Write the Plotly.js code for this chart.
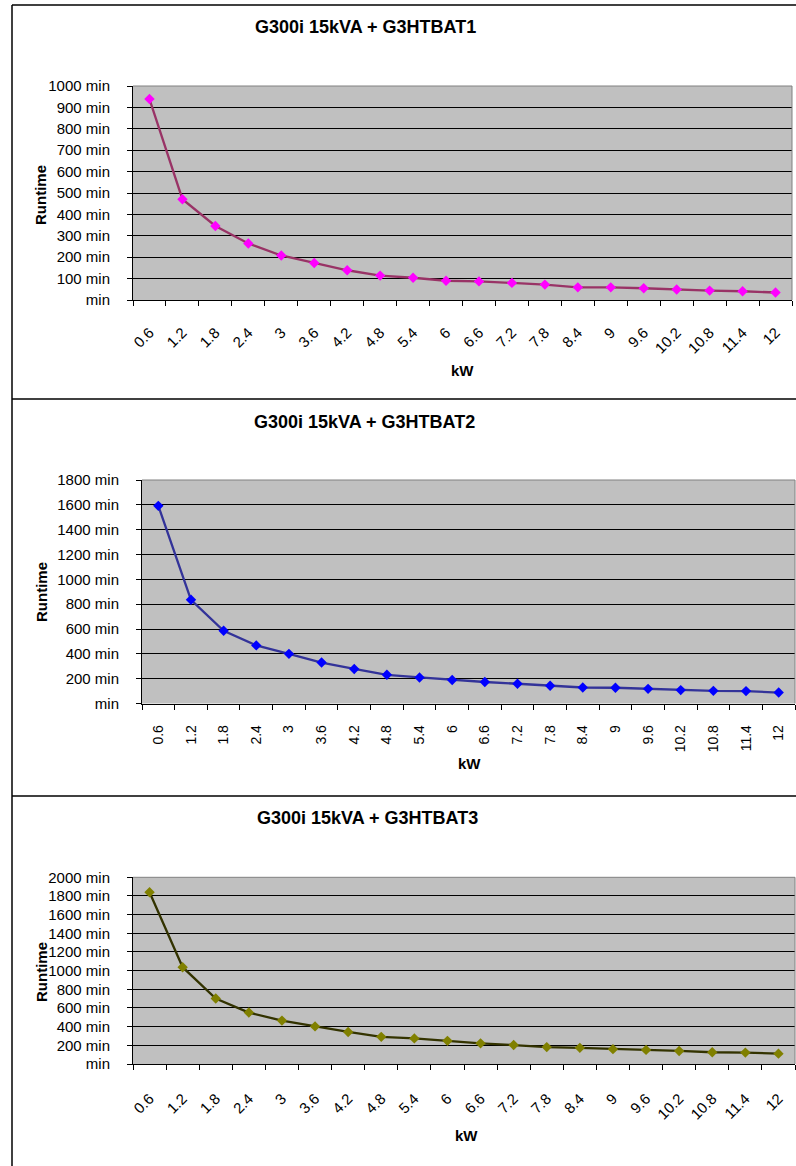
<!DOCTYPE html>
<html>
<head>
<meta charset="utf-8">
<script src="https://cdn.plot.ly/plotly-3.0.1.min.js"></script>
<style>html,body{margin:0;padding:0;background:#fff;}#chart{width:796px;height:1166px;}</style>
</head>
<body>
<div id="chart"></div>
<script>
// ---- data ----
var categories = ['0.6','1.2','1.8','2.4','3','3.6','4.2','4.8','5.4','6','6.6','7.2','7.8','8.4','9','9.6','10.2','10.8','11.4','12'];
var bat1 = [939, 471, 346, 264, 208, 173, 139, 114, 104, 90, 87, 80, 72, 59, 59, 55, 49, 44, 41, 35];
var bat2 = [1592, 835, 586, 468, 400, 330, 278, 231, 210, 189, 173, 159, 143, 129, 127, 118, 108, 102, 100, 88];
var bat3 = [1840, 1037, 702, 551, 465, 403, 343, 291, 274, 248, 221, 203, 181, 173, 159, 151, 140, 126, 122, 111];
var ticks1 = [0,100,200,300,400,500,600,700,800,900,1000];
var ticks2 = [0,200,400,600,800,1000,1200,1400,1600,1800];
var ticks3 = [0,200,400,600,800,1000,1200,1400,1600,1800,2000];
var titles = ['G300i 15kVA + G3HTBAT1','G300i 15kVA + G3HTBAT2','G300i 15kVA + G3HTBAT3'];
var xTitle = 'kW';
var yTitle = 'Runtime';

function tickText(arr){ return arr.map(function(v){ return v === 0 ? 'min' : v + ' min'; }); }

var W = 796, H = 1166;
var FONT = 'Arial, "Liberation Sans", sans-serif';

function trace(y, xa, ya, lineColor, markerColor){
  return {
    type:'scatter', mode:'lines+markers', x:categories, y:y, xaxis:xa, yaxis:ya,
    line:{color:lineColor, width:2.3},
    marker:{symbol:'diamond', size:8, color:markerColor},
    hoverinfo:'skip', showlegend:false
  };
}

var data = [
  trace(bat1,'x','y','#993366','#FF00FF'),
  trace(bat2,'x2','y2','#333399','#0000FF'),
  trace(bat3,'x3','y3','#333300','#808000')
];

function xax(domain, anchor, angle, standoff, fsize){
  return {
    domain:domain, anchor:anchor, type:'category',
    tickson:'boundaries', ticks:'outside', ticklen:5, tickcolor:'#000', tickwidth:1,
    showline:true, linecolor:'#000', linewidth:1, showgrid:false, zeroline:false,
    tickangle:angle, ticklabelstandoff:standoff,
    tickfont:{family:FONT, size:fsize, color:'#000'}, fixedrange:true,
    range:[-0.5, 19.5]
  };
}
function yax(domain, anchor, range, ticks){
  return {
    domain:domain, anchor:anchor, range:range,
    tickmode:'array', tickvals:ticks, ticktext:tickText(ticks),
    ticks:'outside', ticklen:5, tickcolor:'#000', tickwidth:1,
    showline:true, linecolor:'#000', linewidth:1,
    showgrid:true, gridcolor:'#000', gridwidth:1, zeroline:false,
    ticklabelstandoff:14,
    tickfont:{family:FONT, size:15, color:'#000'}, fixedrange:true
  };
}

function px(v){ return v / W; }
function py(v){ return 1 - v / H; }

var layout = {
  width:W, height:H, margin:{l:0,r:0,t:0,b:0},
  paper_bgcolor:'#fff', plot_bgcolor:'#C0C0C0',
  showlegend:false,
  xaxis: xax([px(133), px(792)], 'y', -45, 17, 15),
  yaxis: yax([py(300), py(86)], 'x', [0,1000], ticks1),
  xaxis2: xax([px(142), px(795)], 'y2', -90, 15, 14),
  yaxis2: yax([py(703.5), py(480)], 'x2', [0,1800], ticks2),
  xaxis3: xax([px(133), px(795)], 'y3', -45, 19, 15),
  yaxis3: yax([py(1064), py(877.3)], 'x3', [0,2000], ticks3),
  annotations: [],
  shapes: []
};

var titleY = [27, 422, 818];
var titleX = [365, 364.5, 367];
var kwPos = [[462.5, 370],[470, 763],[466, 1135]];
var rtY = [195, 592, 972];
for (var i = 0; i < 3; i++){
  layout.annotations.push({xref:'paper', yref:'paper', x:px(titleX[i]), y:py(titleY[i]), text:'<b>'+titles[i]+'</b>', showarrow:false, xanchor:'center', yanchor:'middle', font:{family:FONT, size:18, color:'#000'}});
  layout.annotations.push({xref:'paper', yref:'paper', x:px(kwPos[i][0]), y:py(kwPos[i][1]), text:'<b>'+xTitle+'</b>', showarrow:false, xanchor:'center', yanchor:'middle', font:{family:FONT, size:15, color:'#000'}});
  layout.annotations.push({xref:'paper', yref:'paper', x:px(41), y:py(rtY[i]), text:'<b>'+yTitle+'</b>', textangle:-90, showarrow:false, xanchor:'center', yanchor:'middle', font:{family:FONT, size:15, color:'#000'}});
}

// gray top/right edges of each plot area
['', '2', '3'].forEach(function(s){
  var xr = 'x'+s+' domain', yr = 'y'+s+' domain';
  layout.shapes.push({type:'line', xref:xr, yref:yr, x0:0, x1:1, y0:1, y1:1, line:{color:'#808080', width:1}});
  layout.shapes.push({type:'line', xref:xr, yref:yr, x0:1, x1:1, y0:0, y1:1, line:{color:'#808080', width:1}});
});
// panel borders
[5, 399, 796].forEach(function(y){
  layout.shapes.push({type:'line', xref:'paper', yref:'paper', x0:px(12), x1:1, y0:py(y), y1:py(y), line:{color:'#000', width:1.5}});
});
layout.shapes.push({type:'line', xref:'paper', yref:'paper', x0:px(12), x1:px(12), y0:py(5), y1:0, line:{color:'#000', width:1.5}});

Plotly.newPlot('chart', data, layout, {staticPlot:true, displayModeBar:false});
</script>
</body>
</html>
